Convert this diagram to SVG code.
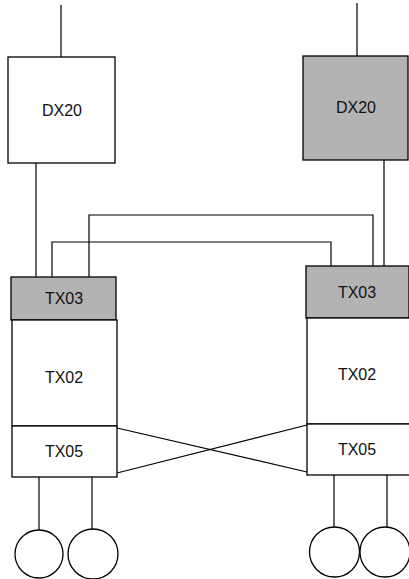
<svg xmlns="http://www.w3.org/2000/svg" width="409" height="579" viewBox="0 0 409 579">
<style>
.box{fill:#fff;stroke:#000;stroke-width:1.3}
.shade{fill:#b3b3b3;stroke:#000;stroke-width:1.3}
.ln{fill:none;stroke:#000;stroke-width:1.2}
.lbl{font-family:"Liberation Sans",Arial,sans-serif;font-size:16px;text-anchor:middle;fill:#111}
</style>
<rect width="409" height="579" fill="#fff"/>
<g id="connectors">
<line class="ln" x1="61" y1="5" x2="61" y2="57"/>
<line class="ln" x1="357" y1="3" x2="357" y2="56"/>
<line class="ln" x1="36" y1="163" x2="36" y2="277"/>
<line class="ln" x1="384" y1="160" x2="384" y2="266"/>
<polyline class="ln" points="89,277 89,215 373,215 373,266"/>
<polyline class="ln" points="52,277 52,242 331,242 331,266"/>
<line class="ln" x1="117" y1="428" x2="307" y2="472"/>
<line class="ln" x1="117" y1="473" x2="307" y2="425"/>
<line class="ln" x1="39" y1="477" x2="39" y2="530"/>
<line class="ln" x1="92" y1="477" x2="92" y2="530"/>
<line class="ln" x1="334" y1="475" x2="334" y2="528"/>
<line class="ln" x1="387" y1="475" x2="387" y2="528"/>
</g>
<g id="dx20-left">
<rect class="box" x="8" y="57" width="107" height="106"/>
<text class="lbl" x="62" y="116">DX20</text>
</g>
<g id="dx20-right">
<rect class="shade" x="303" y="56" width="105" height="104"/>
<text class="lbl" x="356" y="113">DX20</text>
</g>
<g id="tx03-left">
<rect class="shade" x="11" y="277" width="105" height="43"/>
<text class="lbl" x="64" y="304">TX03</text>
</g>
<g id="tx02-left">
<rect class="box" x="12" y="320" width="105" height="106"/>
<text class="lbl" x="64" y="383">TX02</text>
</g>
<g id="tx05-left">
<rect class="box" x="12" y="426" width="105" height="51"/>
<text class="lbl" x="64" y="457">TX05</text>
</g>
<g id="tx03-right">
<rect class="shade" x="306" y="266" width="103" height="52"/>
<text class="lbl" x="357" y="298">TX03</text>
</g>
<g id="tx02-right">
<rect class="box" x="307" y="318" width="103" height="106"/>
<text class="lbl" x="357" y="380">TX02</text>
</g>
<g id="tx05-right">
<rect class="box" x="307" y="424" width="103" height="51"/>
<text class="lbl" x="357" y="455">TX05</text>
</g>
<g id="circle-l1"><circle class="box" cx="39" cy="554" r="24"/></g>
<g id="circle-l2"><circle class="box" cx="93" cy="554" r="25"/></g>
<g id="circle-r1"><circle class="box" cx="334.5" cy="552" r="25"/></g>
<g id="circle-r2"><circle class="box" cx="385" cy="552" r="25"/></g>
</svg>
